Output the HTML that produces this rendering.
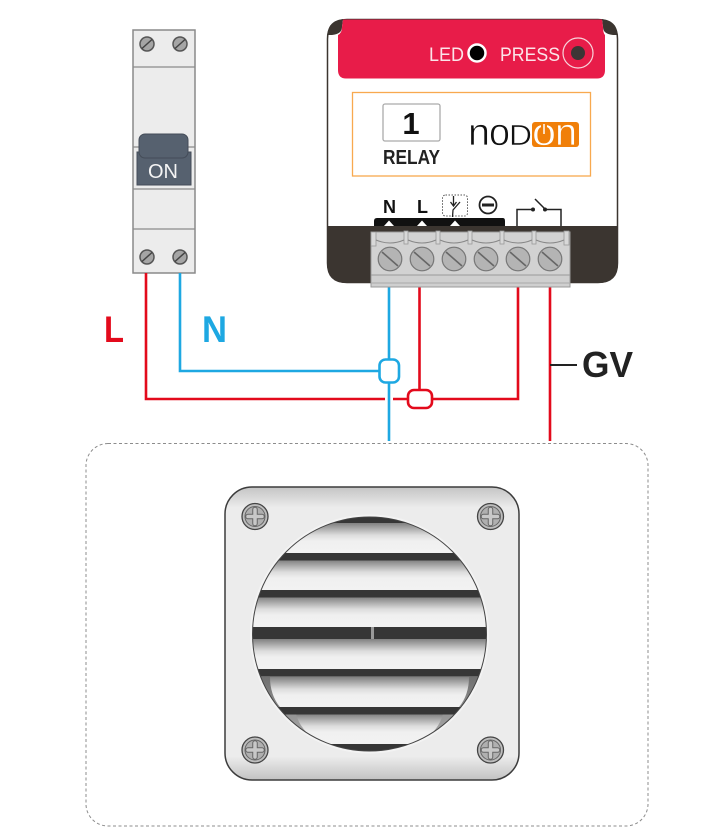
<!DOCTYPE html>
<html><head><meta charset="utf-8"><style>
html,body{margin:0;padding:0;background:#fff}
svg{display:block}
text{font-family:"Liberation Sans",sans-serif}
</style></head><body>
<svg width="726" height="837" viewBox="0 0 726 837" xmlns="http://www.w3.org/2000/svg">
<defs>
<linearGradient id="fr" x1="0" y1="0" x2="0" y2="1">
<stop offset="0" stop-color="#c4c4c4"/><stop offset=".07" stop-color="#ececec"/><stop offset=".92" stop-color="#ececec"/><stop offset="1" stop-color="#c2c2c2"/>
</linearGradient>
<linearGradient id="sl" x1="0" y1="0" x2="0" y2="1">
<stop offset="0" stop-color="#808080"/><stop offset=".4" stop-color="#dcdcdc"/><stop offset=".6" stop-color="#f0f0f0"/><stop offset="1" stop-color="#f2f2f2"/>
</linearGradient>
<linearGradient id="cr" x1="0" y1="0" x2="0" y2="1">
<stop offset="0" stop-color="#707070"/><stop offset="1" stop-color="#b0b0b0"/>
</linearGradient>
<clipPath id="c"><circle cx="369.500" cy="634" r="117"/></clipPath>
<g id="sc"><circle r="7" fill="#a5a5a5" stroke="#555" stroke-width="1.5"/><path d="M-5 4.500L5-4.500" stroke="#444" stroke-width="1.500"/></g>
<g id="ts"><circle r="11.800" fill="#b4b4b4" stroke="#777" stroke-width="1.200"/><path d="M-8-7L8 7" stroke="#666" stroke-width="1.600"/></g>
<g id="vs"><circle r="13" fill="#bdbdbd" stroke="#444" stroke-width="1.300"/><circle r="10" fill="#b0b0b0" stroke="#666" stroke-width="1"/><path d="M-7 0H7M0-7V7" stroke="#666" stroke-width="5.500" stroke-linecap="round"/><path d="M-7 0H7M0-7V7" stroke="#c8c8c8" stroke-width="3.500" stroke-linecap="round"/></g>
</defs>

<!-- breaker -->
<rect x="133" y="30" width="62" height="243" fill="#ececec" stroke="#8a8a8a" stroke-width="1.500"/>
<path d="M133 67H195M133 147H195M133 189H195M133 229H195" stroke="#8a8a8a" stroke-width="1.300"/>
<use href="#sc" x="147" y="44"/><use href="#sc" x="180" y="44"/>
<use href="#sc" x="147" y="257"/><use href="#sc" x="180" y="257"/>
<rect x="137" y="152" width="54" height="33" fill="#56616f" stroke="#444c58" stroke-width="1"/>
<rect x="139" y="134" width="49" height="24" rx="6" fill="#56616f" stroke="#444c58" stroke-width="1"/>
<text x="163" y="178" font-size="20" fill="#f4f4f4" text-anchor="middle">ON</text>

<!-- wires -->
<g fill="none" stroke-width="2.600">
<path d="M146 273V399H385M393 399H408M432 399H518V287M419.500 287V389M550 287V441" stroke="#e30a1c"/>
<path d="M180 273V371H379M389 287V359M389 383V441" stroke="#1ea8e2"/>
<rect x="379.500" y="359.500" width="19.500" height="23" rx="6" fill="#fff" stroke="#1ea8e2"/>
<rect x="408" y="390" width="24" height="18" rx="6" fill="#fff" stroke="#e30a1c"/>
</g>
<path d="M550 365H577" stroke="#222" stroke-width="2"/>
<text x="104" y="342" font-size="37" font-weight="bold" fill="#e30a1c" textLength="20" lengthAdjust="spacingAndGlyphs">L</text>
<text x="202" y="342" font-size="37" font-weight="bold" fill="#1ea8e2" textLength="25" lengthAdjust="spacingAndGlyphs">N</text>
<text x="582" y="377" font-size="36" font-weight="bold" fill="#222" textLength="51" lengthAdjust="spacingAndGlyphs">GV</text>

<!-- module -->
<path d="M347 19.500H598Q617.500 19.500 617.500 39V263Q617.500 282.500 598 282.500H347Q327.500 282.500 327.500 263V39Q327.500 19.500 347 19.500Z" fill="#fff" stroke="#3b3530" stroke-width="1.500"/>
<path d="M327 226H618V263Q618 283 598 283H347Q327 283 327 263Z" fill="#3b3530"/>
<path d="M343 19H347Q328 19 327.500 35H332Q342 34 342 27Z" fill="#3b3530"/>
<path d="M602 19H598Q617 19 617.500 35H613Q603 34 603 27Z" fill="#3b3530"/>
<path d="M343 19.500H602L603 27Q603 33 605 35V70Q605 78.500 597 78.500H346Q338 78.500 338 70V35Q342 33 342 27Z" fill="#e81c49"/>
<text x="429" y="61" font-size="19" fill="#fbe4e9" textLength="35" lengthAdjust="spacingAndGlyphs">LED</text>
<circle cx="477" cy="53" r="8.500" fill="#000" stroke="#fff" stroke-width="2.500"/>
<text x="500" y="61" font-size="19" fill="#fbe4e9" textLength="60" lengthAdjust="spacingAndGlyphs">PRESS</text>
<circle cx="578" cy="53" r="15" fill="none" stroke="#f7d5dc" stroke-width="1.200"/>
<circle cx="578" cy="53" r="7" fill="#3d3535"/>

<rect x="352.500" y="92.500" width="238" height="83.500" fill="#fff" stroke="#f8a94f" stroke-width="1.300"/>
<rect x="383" y="104" width="57" height="37" rx="2" fill="#fff" stroke="#aaa" stroke-width="1.300"/>
<text x="411" y="134" font-size="31" font-weight="bold" fill="#111" text-anchor="middle">1</text>
<text x="383" y="164" font-size="20" font-weight="bold" fill="#222" textLength="57" lengthAdjust="spacingAndGlyphs">RELAY</text>

<!-- logo -->
<text x="468" y="145" font-size="38" fill="#111" stroke="#fff" stroke-width=".7" paint-order="fill stroke" textLength="22" lengthAdjust="spacingAndGlyphs">n</text>
<text x="489" y="145" font-size="38" fill="#111" stroke="#fff" stroke-width=".7" paint-order="fill stroke" textLength="21" lengthAdjust="spacingAndGlyphs">o</text>
<text x="509" y="145" font-size="29" fill="#111" stroke="#fff" stroke-width=".5" paint-order="fill stroke" textLength="23" lengthAdjust="spacingAndGlyphs">D</text>
<rect x="532" y="122" width="47" height="25" rx="3" fill="#f07f09"/>
<text x="532" y="145" font-size="38" fill="#fff" stroke="#f07f09" stroke-width=".7" paint-order="fill stroke" textLength="24" lengthAdjust="spacingAndGlyphs">o</text>
<text x="555" y="145" font-size="38" fill="#fff" stroke="#f07f09" stroke-width=".7" paint-order="fill stroke" textLength="22" lengthAdjust="spacingAndGlyphs">n</text>
<rect x="541" y="122" width="6" height="9" fill="#f07f09"/>
<path d="M544 124V134" stroke="#fff" stroke-width="1.500"/>

<!-- terminal labels -->
<path d="M374 226V221Q374 218 377 218H503Q505 218 505 221V226Z" fill="#111"/>
<path d="M384 226L389 220.500L394 226ZM417 226L422 220.500L427 226ZM450 226L455 220.500L460 226Z" fill="#fff"/>
<text x="389.500" y="213" font-size="18" font-weight="bold" fill="#111" text-anchor="middle">N</text>
<text x="422.500" y="213" font-size="18" font-weight="bold" fill="#111" text-anchor="middle">L</text>
<rect x="442.500" y="195" width="25" height="21" rx="3" fill="none" stroke="#555" stroke-width="1" stroke-dasharray="1.500 1.500"/>
<path d="M453.500 196V205M450.500 202L453.500 206L456.500 202M452.500 217L453 210L460 202" fill="none" stroke="#222" stroke-width="1.300"/>
<circle cx="488" cy="205" r="8.500" fill="#fff" stroke="#222" stroke-width="1.800"/>
<path d="M482 205H494" stroke="#222" stroke-width="3"/>
<path d="M517 226V209.500H533M545 209.500H561V226M545 209L535 199" fill="none" stroke="#222" stroke-width="1.500"/>
<circle cx="533" cy="209.500" r="2" fill="#222"/><circle cx="545" cy="209.500" r="2" fill="#222"/>

<!-- terminal block -->
<rect x="371" y="232" width="199" height="43" fill="#d2d2d2" stroke="#999" stroke-width="1"/>
<rect x="371" y="275" width="199" height="12" fill="#cfcfcf" stroke="#999" stroke-width="1"/>
<path d="M371 283H570" stroke="#aaa" stroke-width="1"/>
<g fill="#d8d8d8" stroke="#999" stroke-width=".8">
<rect x="371" y="232" width="5" height="14"/><rect x="404" y="231" width="4" height="13"/><rect x="436" y="231" width="4" height="13"/><rect x="468" y="231" width="4" height="13"/><rect x="500" y="231" width="4" height="13"/><rect x="532" y="231" width="4" height="13"/><rect x="564" y="231" width="5" height="14"/>
</g>
<path d="M376 240Q390 246 404 240M408 240Q422 246 436 240M440 240Q454 246 468 240M472 240Q486 246 500 240M504 240Q518 246 532 240M536 240Q550 246 564 240" fill="none" stroke="#888" stroke-width="1"/>
<use href="#ts" x="390" y="259"/><use href="#ts" x="422" y="259"/><use href="#ts" x="454" y="259"/>
<use href="#ts" x="486" y="259"/><use href="#ts" x="518" y="259"/><use href="#ts" x="550" y="259"/>

<!-- dashed frame -->
<rect x="86" y="443.500" width="562" height="382.500" rx="22" fill="#fff" stroke="#8c8c8c" stroke-width="1" stroke-dasharray="3 2.500"/>

<!-- vent -->
<rect x="225" y="487" width="294" height="293" rx="27" fill="url(#fr)" stroke="#3c3c3c" stroke-width="1.500"/>
<circle cx="369.500" cy="634" r="118.500" fill="none" stroke="#f3f3f3" stroke-width="2"/>
<g clip-path="url(#c)">
<rect x="250" y="515" width="240" height="240" fill="#999"/>
<rect x="250" y="523" width="240" height="30" fill="url(#sl)"/>
<rect x="250" y="560" width="240" height="30" fill="url(#sl)"/>
<rect x="250" y="597" width="240" height="30" fill="url(#sl)"/>
<rect x="250" y="639" width="240" height="30" fill="url(#sl)"/>
<rect x="250" y="677" width="240" height="30" fill="url(#sl)"/>
<rect x="250" y="714" width="240" height="30" fill="url(#sl)"/>
<path d="M250 677H270Q270 695 280 707H250ZM490 677H469Q469 695 459 707H490ZM250 714H296Q300 730 320 744H250ZM490 714H443Q439 730 420 744H490Z" fill="url(#cr)"/>
<g fill="#363636">
<rect x="250" y="515" width="240" height="8"/>
<rect x="250" y="553" width="240" height="7.500"/>
<rect x="250" y="590" width="240" height="7.500"/>
<rect x="250" y="627" width="240" height="12"/>
<rect x="250" y="669" width="240" height="7.500"/>
<rect x="250" y="707" width="240" height="7.500"/>
<rect x="250" y="744" width="240" height="10"/>
</g>
<rect x="371" y="627" width="3" height="12" fill="#999"/>
</g>
<circle cx="369.500" cy="634" r="117" fill="none" stroke="#444" stroke-width="1"/>
<use href="#vs" x="255" y="516.500"/><use href="#vs" x="490.500" y="516.500"/>
<use href="#vs" x="255" y="750"/><use href="#vs" x="490.500" y="750"/>
</svg>
</body></html>
